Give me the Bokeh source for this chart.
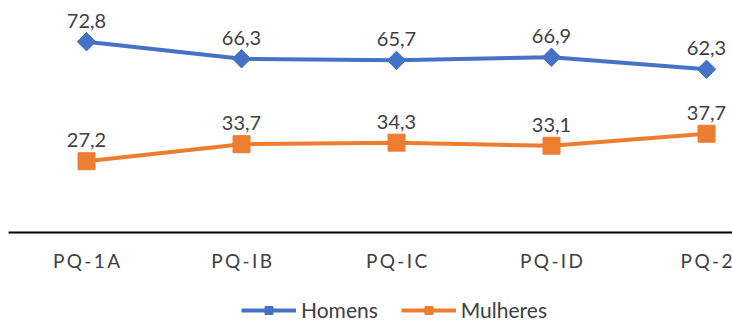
from bokeh.plotting import figure
from bokeh.models import ColumnDataSource, Legend, LegendItem, Range1d
from bokeh.embed import file_html
from bokeh.resources import INLINE
from bokeh.core.properties import value

categories = ["PQ-1A", "PQ-IB", "PQ-IC", "PQ-ID", "PQ-2"]
homens = [72.8, 66.3, 65.7, 66.9, 62.3]
mulheres = [27.2, 33.7, 34.3, 33.1, 37.7]

BLUE = "#4472C4"
ORANGE = "#ED7D31"
FONT = "Lato"

xs = list(range(len(categories)))
X0 = -0.555          # left edge of the canvas in category units
AXIS_START = -0.503  # where the baseline begins


def fmt(v):
    return f"{v:.1f}".replace(".", ",")


src_h = ColumnDataSource(dict(x=xs, y=homens, lbl=[fmt(v) for v in homens]))
src_m = ColumnDataSource(dict(x=xs, y=mulheres, lbl=[fmt(v) for v in mulheres]))
src_c = ColumnDataSource(dict(x=xs, y=[0] * len(xs),
                              lbl=["\u2009".join(c) for c in categories]))

p = figure(width=732, height=322, output_backend="svg", toolbar_location=None,
           x_range=Range1d(X0, X0 + 732 / 155), y_range=Range1d(-34.35, 88.55),
           min_border=0, x_axis_type=None, y_axis_type=None)
p.outline_line_color = None
p.xgrid.visible = False
p.ygrid.visible = False

# baseline (category axis)
p.segment(x0=[AXIS_START], y0=[0], x1=[X0 + 732 / 155], y1=[0],
          line_color="black", line_width=2)
p.text("x", "y", text="lbl", source=src_c, text_align="center",
       text_baseline="middle", y_offset=28,
       text_font=value(FONT), text_font_size="19px", text_color="#404040")

lh = p.line("x", "y", source=src_h, line_color=BLUE, line_width=4)
mh = p.scatter("x", "y", source=src_h, marker="square", size=13, angle=0.7854,
               fill_color=BLUE, line_color=BLUE)
lm = p.line("x", "y", source=src_m, line_color=ORANGE, line_width=4)
mm = p.scatter("x", "y", source=src_m, marker="square", size=17,
               fill_color=ORANGE, line_color=ORANGE)

for src in (src_h, src_m):
    p.text("x", "y", text="lbl", source=src, text_align="center",
           text_baseline="bottom", y_offset=-14,
           text_font=value(FONT), text_font_size="20px", text_color="#404040")

legend = Legend(items=[LegendItem(label="Homens", renderers=[lh, mh]),
                       LegendItem(label="Mulheres", renderers=[lm, mm])],
                orientation="horizontal", location=(241, 0),
                glyph_width=55, glyph_height=20, label_standoff=5, spacing=23,
                padding=0, margin=0, border_line_color=None,
                background_fill_alpha=0,
                label_text_font=FONT, label_text_font_size="21px",
                label_text_color="#404040")
p.add_layout(legend, "center")

open("out.html", "w").write(file_html(p, INLINE))
